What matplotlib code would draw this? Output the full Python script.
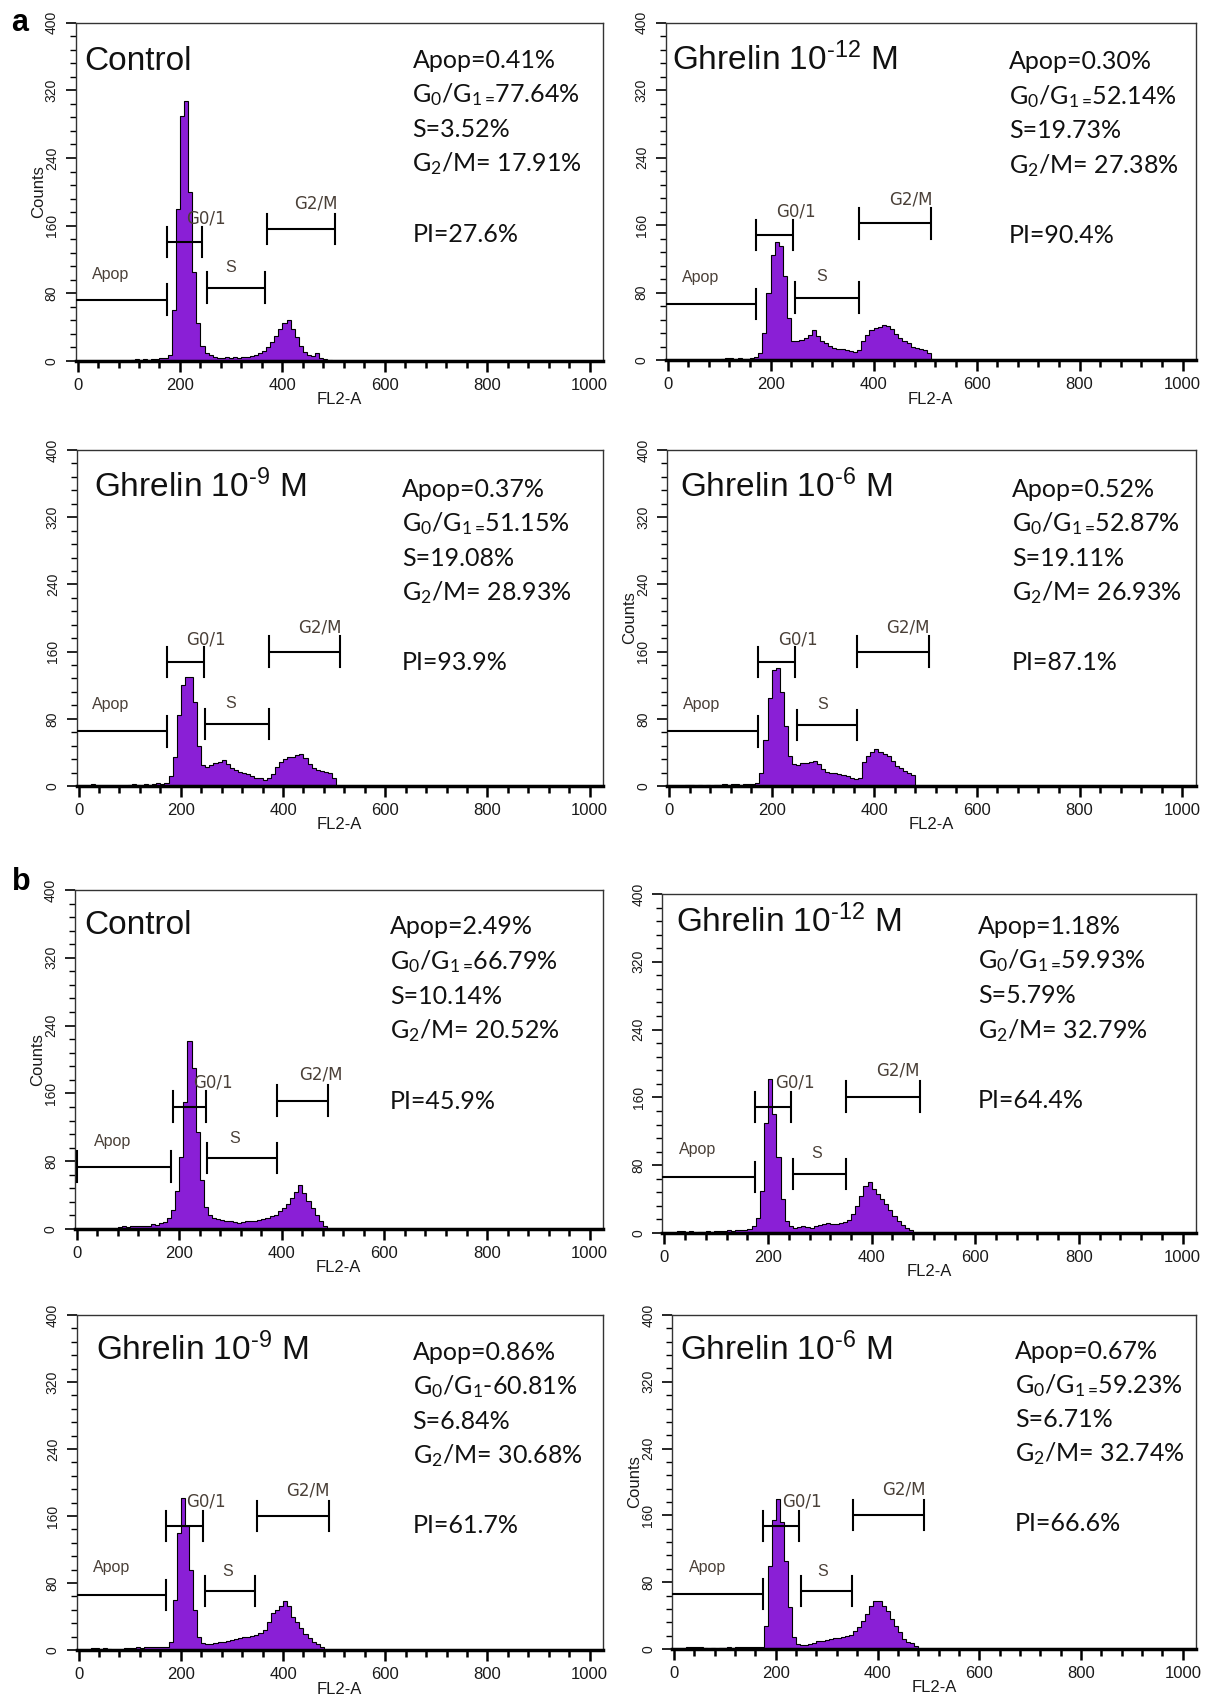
import numpy as np
import matplotlib
matplotlib.use("Agg")
import matplotlib.pyplot as plt
from matplotlib.ticker import MultipleLocator

plt.rcParams['mathtext.default'] = 'regular'

W, H = 1211, 1695

# ===== DNA content histograms (FL2-A channel bins of width 8) =====
edges = np.arange(0, 528, 8)

a_control = [0, 0, 0, 0, 0, 0, 0, 0, 0, 0,
             0, 0, 0, 1, 2, 1, 2, 1, 2, 2,
             3, 4, 7, 60, 180, 290, 308, 200, 105, 45,
             18, 10, 7, 5, 4, 4, 5, 4, 5, 4,
             5, 5, 6, 7, 9, 12, 16, 22, 30, 38,
             45, 48, 38, 28, 18, 11, 7, 6, 9, 4,
             2, 1, 0, 0, 0]
a_ghr12 = [0, 0, 0, 0, 0, 0, 0, 0, 0, 0,
           0, 0, 0, 1, 2, 2, 1, 2, 1, 1,
           2, 3, 8, 32, 80, 125, 140, 135, 100, 50,
           22, 22, 24, 26, 30, 36, 28, 23, 20, 17,
           14, 13, 13, 12, 11, 9, 12, 22, 30, 36,
           38, 39, 41, 40, 37, 31, 26, 22, 20, 16,
           14, 13, 12, 8, 0]
a_ghr9 = [0, 0, 0, 2, 0, 0, 0, 0, 0, 0,
          0, 0, 1, 2, 1, 0, 2, 1, 2, 3,
          2, 3, 12, 35, 85, 120, 130, 130, 100, 48,
          25, 23, 25, 27, 29, 31, 26, 21, 19, 17,
          15, 14, 12, 10, 9, 7, 9, 14, 23, 28,
          32, 34, 35, 37, 38, 33, 26, 21, 19, 18,
          17, 15, 10, 0, 0]
a_ghr6 = [0, 0, 0, 0, 1, 1, 0, 1, 0, 1,
          0, 1, 1, 2, 1, 2, 2, 1, 2, 2,
          2, 3, 15, 55, 105, 138, 140, 112, 72, 36,
          26, 25, 27, 27, 28, 30, 26, 20, 17, 16,
          15, 14, 13, 12, 10, 8, 10, 28, 36, 40,
          44, 40, 38, 36, 30, 24, 21, 18, 16, 13,
          0, 0, 0, 0, 0]
b_control = [0, 0, 0, 0, 0, 0, 0, 0, 0, 0,
             2, 3, 2, 3, 3, 4, 3, 4, 6, 5,
             7, 8, 13, 22, 45, 85, 150, 222, 190, 115,
             58, 26, 17, 13, 12, 11, 10, 9, 8, 7,
             8, 9, 9, 10, 11, 12, 13, 15, 17, 21,
             25, 30, 37, 44, 52, 42, 33, 25, 17, 10,
             3, 0, 0, 0, 0]
b_ghr12 = [0, 0, 0, 2, 2, 1, 2, 0, 1, 1,
           2, 1, 2, 2, 2, 3, 2, 3, 3, 4,
           5, 8, 18, 50, 130, 182, 140, 90, 40, 14,
           8, 6, 7, 8, 7, 6, 8, 9, 11, 12,
           11, 11, 12, 13, 15, 22, 32, 44, 56, 60,
           52, 46, 40, 34, 27, 20, 14, 9, 6, 4,
           0, 0, 0, 0, 0]
b_ghr9 = [0, 0, 0, 2, 2, 1, 2, 1, 0, 0,
          0, 2, 2, 2, 3, 2, 3, 3, 3, 3,
          3, 4, 10, 60, 140, 182, 148, 95, 48, 16,
          8, 7, 7, 8, 9, 10, 11, 12, 13, 14,
          15, 16, 17, 18, 20, 24, 34, 44, 48, 53,
          58, 52, 40, 33, 26, 19, 14, 10, 7, 4,
          0, 0, 0, 0, 0]
b_ghr6 = [0, 0, 0, 2, 2, 2, 2, 1, 0, 1,
          0, 1, 1, 2, 1, 2, 2, 2, 2, 2,
          2, 2, 28, 100, 155, 180, 152, 105, 50, 14,
          6, 5, 5, 6, 7, 9, 10, 11, 12, 13,
          13, 14, 15, 17, 21, 26, 33, 42, 52, 58,
          58, 52, 46, 36, 28, 20, 12, 8, 7, 4,
          0, 0, 0, 0, 0]

hists = [a_control, a_ghr12, a_ghr9, a_ghr6,
         b_control, b_ghr12, b_ghr9, b_ghr6]

# superscripts use a plain hyphen
titles = ['Control', 'Ghrelin 10$^{\u201012}$ M', 'Ghrelin 10$^{\u20109}$ M',
          'Ghrelin 10$^{\u20106}$ M'] * 2

# cell-cycle percentages
apop_pct = ['0.41', '0.30', '0.37', '0.52', '2.49', '1.18', '0.86', '0.67']
g01_pct = ['77.64', '52.14', '51.15', '52.87', '66.79', '59.93', '60.81', '59.23']
s_pct = ['3.52', '19.73', '19.08', '19.11', '10.14', '5.79', '6.84', '6.71']
g2m_pct = ['17.91', '27.38', '28.93', '26.93', '20.52', '32.79', '30.68', '32.74']
pi_pct = ['27.6', '90.4', '93.9', '87.1', '45.9', '64.4', '61.7', '66.6']
g01_sep = ['=', '=', '=', '=', '=', '=', '-', '=']

# marker gates: (start, end, level)
apop_gates = [(-20, 175, 72.6), (-20, 172, 66.4), (-20, 173, 65), (-20, 173, 65),
              (0, 184, 73.6), (-20, 174, 66), (-20, 172, 66), (-20, 174, 66)]
g01_gates = [(175, 243, 141), (172, 244, 148), (173, 245, 147.6), (173, 245, 147.6),
             (188, 252, 144.5), (174, 245, 148.5), (172, 243, 148), (174, 245, 147.6)]
s_gates = [(252, 366, 86.8), (247, 372, 74), (248, 373, 73.4), (249, 366, 73),
           (254, 390, 83.5), (249, 350, 69.5), (247, 346, 70), (249, 350, 70)]
g2m_gates = [(370, 503, 156), (372, 512, 162), (373, 511, 160), (366, 507, 160),
             (390, 490, 151.6), (351, 493, 161), (349, 490, 160.5), (352, 492, 161)]

# gate label anchors
apop_lbl = [(64, 102), (64, 98), (63, 97), (64, 97), (71, 103), (64, 98), (64, 98), (65, 98)]
g01_lbl = [(250, 168), (250, 176), (250, 175), (251, 175), (265, 173), (252, 178), (250, 177), (252, 177)]
s_lbl = [(299, 111), (299, 99), (298, 98), (299, 97), (307, 107), (293, 94), (292, 94), (292, 93)]
g2m_lbl = [(465, 186), (473, 190), (472, 189), (465, 189), (476, 182), (451, 192), (449, 191), (451, 191)]

# text anchors (data units)
title_pos = [(12.6, 344), (8.6, 344), (29.8, 344), (21.3, 344),
             (14.3, 348.6), (22.3, 355), (33.6, 346), (11.7, 346)]
stats_pos = [(654, 347), (663, 345), (633, 344), (668, 344),
             (611, 348), (605, 353), (653.5, 346), (670, 347.5)]
line_steps = [0, -41, -82, -123, -206]

# axes boxes in pixels: left, top, right, bottom
boxes = [(75.5, 22.7, 603, 361), (665.5, 22.7, 1196, 360),
         (76.5, 450, 603, 786), (667, 450, 1195.5, 786),
         (74.6, 890, 603, 1229), (662.4, 894, 1196, 1233),
         (76.5, 1315, 603, 1650), (672, 1315, 1196, 1649)]
show_counts = [True, False, False, True, True, False, False, True]

PURPLE = '#8a1fd6'
LBL = '#4a4038'


def draw_gate(ax, x0, x1, y):
    ax.plot([x0, x1], [y, y], color='k', lw=1.5, solid_capstyle='butt', zorder=4)
    for x in (x0, x1):
        ax.plot([x, x], [y - 18, y + 18], color='k', lw=1.5, zorder=4)


fig = plt.figure(figsize=(W / 100, H / 100), dpi=100)

for i, (l, t, r, b) in enumerate(boxes):
    ax = fig.add_axes([l / W, 1 - b / H, (r - l) / W, (b - t) / H])
    vals = np.array(hists[i], dtype=float)
    ax.stairs(vals, edges, fill=True, color=PURPLE, lw=0, zorder=2)
    ax.stairs(vals, edges, baseline=None, color='k', lw=0.8, zorder=3)

    ax.set_xlim(-4, 1026)
    ax.set_ylim(0, 400)
    ax.xaxis.set_major_locator(MultipleLocator(200))
    ax.xaxis.set_minor_locator(MultipleLocator(40))
    ax.yaxis.set_major_locator(MultipleLocator(80))
    ax.yaxis.set_minor_locator(MultipleLocator(16))
    ax.tick_params(axis='x', which='major', direction='out', length=8, width=1.8,
                   pad=4, labelsize=12, labelcolor='#1a1a1a')
    ax.tick_params(axis='x', which='minor', direction='out', length=5, width=1.8)
    ax.tick_params(axis='y', which='major', direction='out', length=7, width=1.2,
                   pad=5, labelsize=10, labelcolor='#1a1a1a', labelrotation=90)
    ax.tick_params(axis='y', which='minor', direction='out', length=4, width=1.0)
    for lab in ax.get_xticklabels() + ax.get_yticklabels():
        lab.set_fontfamily('Liberation Sans')
    for lab in ax.get_yticklabels():
        lab.set_verticalalignment('center')
    for side in ('top', 'right', 'left'):
        ax.spines[side].set_linewidth(1.0)
        ax.spines[side].set_color('#333333')
    ax.spines['bottom'].set_linewidth(2.5)
    ax.spines['bottom'].set_color('k')

    ax.annotate('FL2-A', xy=(0.5, 0), xycoords='axes fraction', xytext=(0, -39 * 0.72),
                textcoords='offset points', ha='center', va='center',
                fontsize=12, family='Liberation Sans', color='#1a1a1a')
    if show_counts[i]:
        ax.annotate('Counts', xy=(0, 0.5), xycoords='axes fraction', xytext=(-37 * 0.72, 0),
                    textcoords='offset points', ha='center', va='center', rotation=90,
                    fontsize=12, family='Liberation Sans', color='#1a1a1a')

    # gates and their labels
    for g in (apop_gates[i], g01_gates[i], s_gates[i], g2m_gates[i]):
        draw_gate(ax, *g)
    ax.text(*apop_lbl[i], 'Apop', ha='center', va='center', fontsize=11.5,
            family='Liberation Sans', color=LBL, zorder=5)
    ax.text(*s_lbl[i], 'S', ha='center', va='center', fontsize=11.5,
            family='Liberation Sans', color=LBL, zorder=5)
    ax.text(*g01_lbl[i], 'G0/1', ha='center', va='center', fontsize=12,
            family='DejaVu Sans', color=LBL, zorder=5)
    ax.text(*g2m_lbl[i], 'G2/M', ha='center', va='center', fontsize=12,
            family='DejaVu Sans', color=LBL, zorder=5)

    # sample name
    ax.text(*title_pos[i], titles[i], ha='left', va='baseline', fontsize=24,
            family='Liberation Sans', color='#111111', zorder=5)

    # cell-cycle distribution
    sep = r'$_{1=}\!$' if g01_sep[i] == '=' else r'$_1$-'
    lines = ['Apop=' + apop_pct[i] + '%',
             r'G$_0$/G' + sep + g01_pct[i] + '%',
             'S=' + s_pct[i] + '%',
             r'G$_2$/M= ' + g2m_pct[i] + '%',
             'PI=' + pi_pct[i] + '%']
    sx, sy = stats_pos[i]
    for txt, dy in zip(lines, line_steps):
        ax.text(sx, sy + dy, txt, ha='left', va='baseline', fontsize=18,
                family='Lato', color='#111111', zorder=5)

fig.text(20 / W, 1 - 23 / H, 'a', ha='center', va='center', fontsize=22,
         fontweight='bold', family='Liberation Sans')
fig.text(21 / W, 1 - 882 / H, 'b', ha='center', va='center', fontsize=22,
         fontweight='bold', family='Liberation Sans')

fig.savefig('out.png', dpi=100)
